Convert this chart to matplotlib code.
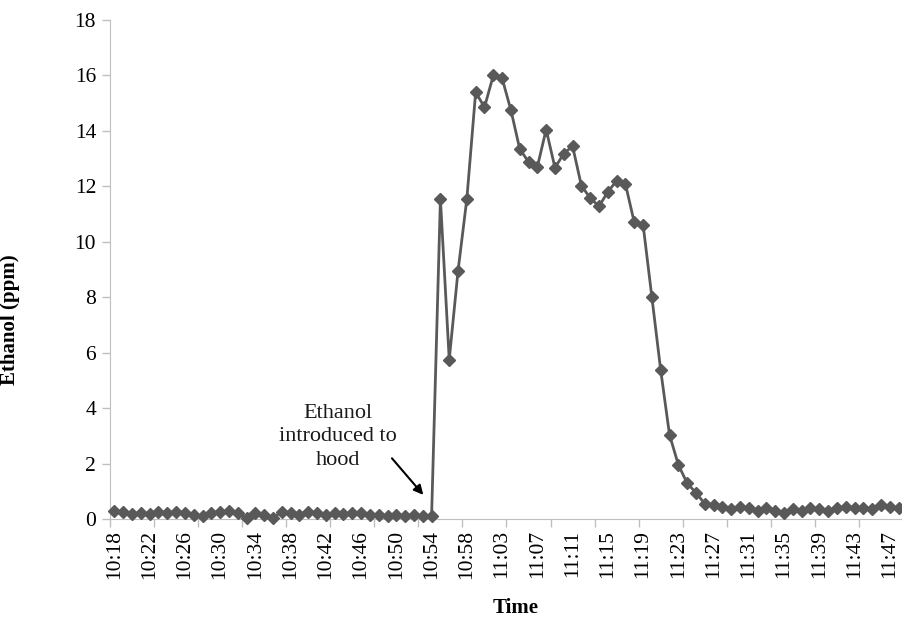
import matplotlib
matplotlib.use("Agg")
import matplotlib.pyplot as plt
import numpy as np

plt.rcParams['font.family'] = ['Liberation Serif', 'DejaVu Serif']

# ethanol readings, one per category (about one a minute)
baseline = [0.28, 0.27, 0.17, 0.22, 0.18, 0.25, 0.2, 0.27, 0.22, 0.15,
            0.12, 0.22, 0.25, 0.28, 0.2, 0.05, 0.22, 0.15, 0.05, 0.25,
            0.22, 0.15, 0.25, 0.2, 0.15, 0.2, 0.18, 0.2, 0.22, 0.15,
            0.15, 0.12, 0.15, 0.12, 0.15, 0.12, 0.12]
peak = [11.55, 5.75, 8.95, 11.55, 15.4, 14.85, 16.0, 15.9, 14.75, 13.35,
        12.88, 12.7, 14.05, 12.67, 13.18, 13.45, 12.02, 11.58, 11.28, 11.8,
        12.2, 12.08, 10.7, 10.62, 8.0, 5.37, 3.04, 1.96, 1.29, 0.95]
tail = [0.55, 0.5, 0.42, 0.35, 0.42, 0.38, 0.3, 0.38, 0.28, 0.22,
        0.35, 0.3, 0.38, 0.35, 0.3, 0.38, 0.42, 0.4, 0.38, 0.35,
        0.5, 0.42, 0.38]
ethanol = baseline + peak + tail

time_labels = ["10:18", "10:22", "10:26", "10:30", "10:34", "10:38", "10:42",
               "10:46", "10:50", "10:54", "10:58", "11:03", "11:07", "11:11",
               "11:15", "11:19", "11:23", "11:27", "11:31", "11:35", "11:39",
               "11:43", "11:47"]

x = np.arange(len(ethanol))
gray = '#595959'
axis_gray = '#bfbfbf'

fig = plt.figure(figsize=(9.03, 6.18), dpi=100)
ax = fig.add_axes([110 / 903, 99 / 618, 793 / 903, 499 / 618])

ax.plot(x, ethanol, color=gray, lw=2.0, marker='D', ms=6.5,
        markeredgecolor=gray, markerfacecolor=gray, clip_on=False, zorder=3)

ax.set_xlim(-0.5, len(ethanol) - 0.5)
ax.set_ylim(0, 18)
ax.set_yticks(np.arange(0, 19, 2))

# labels every 4 categories, tick marks every 5
ax.set_xticks(np.arange(0, len(time_labels) * 4, 4))
ax.set_xticklabels(time_labels, rotation=90)
ax.set_xticks(np.arange(-0.5, len(ethanol), 5), minor=True)
ax.tick_params(axis='x', which='major', length=0, pad=8, labelsize=15.5)
ax.tick_params(axis='x', which='minor', length=6, color=axis_gray, width=1)
ax.tick_params(axis='y', length=6, color=axis_gray, width=1, labelsize=15.5, pad=4)

for s in ['top', 'right']:
    ax.spines[s].set_visible(False)
ax.spines['left'].set_color(axis_gray)
ax.spines['bottom'].set_color(axis_gray)

ax.set_ylabel("Ethanol (ppm)", fontsize=15, fontweight='bold')
ax.yaxis.set_label_coords(-0.1135, 0.399)
ax.set_xlabel("Time", fontsize=15, fontweight='bold')
ax.xaxis.label.set_va('center')
ax.xaxis.set_label_coords(0.511, -0.178)

ax.text(25.4, 2.96, "Ethanol\nintroduced to\nhood", ha='center', va='center',
        fontsize=16, linespacing=1.3, color='#1a1a1a')
ax.annotate("", xy=(35.06, 0.87), xytext=(31.5, 2.19),
            arrowprops=dict(arrowstyle='-|>', color='black', lw=1.5,
                            mutation_scale=14, shrinkA=0, shrinkB=0))

fig.savefig("out.png", dpi=100)
